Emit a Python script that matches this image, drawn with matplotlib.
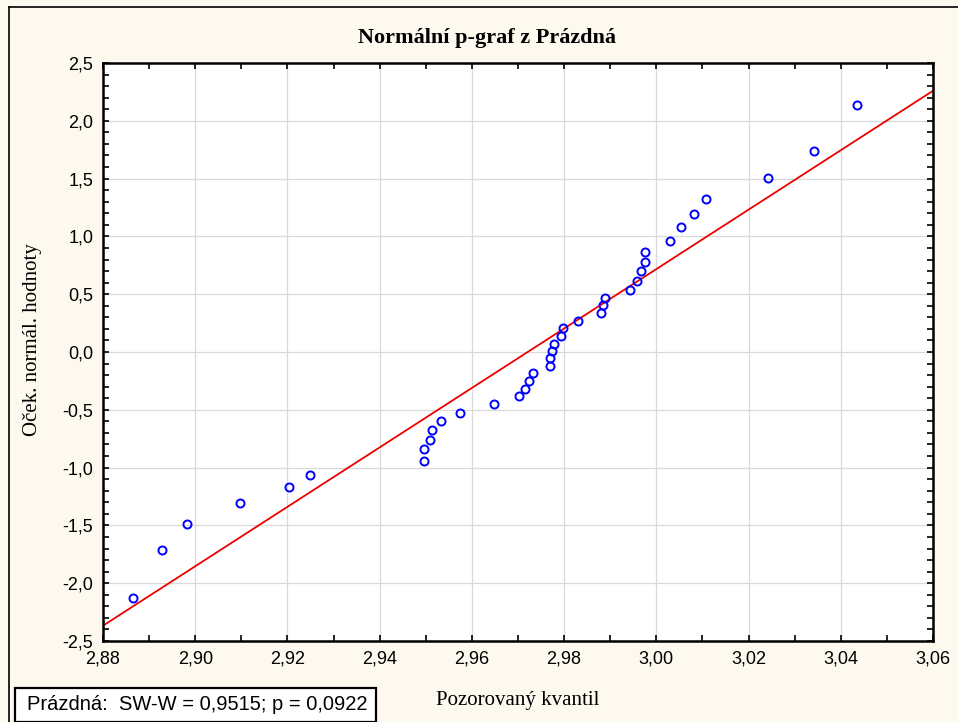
import matplotlib
matplotlib.use('Agg')
import matplotlib.pyplot as plt
from matplotlib.lines import Line2D
from matplotlib.patches import Rectangle
from matplotlib.ticker import MultipleLocator

# ---- data ----
observed = [2.8865, 2.8928, 2.8982, 2.9097, 2.9204, 2.9249, 2.9497, 2.9497,
            2.9509, 2.9513, 2.9534, 2.9575, 2.9649, 2.9703, 2.9716, 2.9723,
            2.9732, 2.9769, 2.9769, 2.9773, 2.9777, 2.9793, 2.9797, 2.9830,
            2.9880, 2.9885, 2.9889, 2.9942, 2.9958, 2.9966, 2.9975, 2.9975,
            3.0029, 3.0054, 3.0082, 3.0107, 3.0243, 3.0342, 3.0436]
expected = [-2.125, -1.714, -1.487, -1.305, -1.172, -1.060, -0.941, -0.843,
            -0.759, -0.679, -0.597, -0.528, -0.448, -0.384, -0.318, -0.251,
            -0.185, -0.119, -0.052, 0.005, 0.072, 0.138, 0.205, 0.270,
            0.336, 0.403, 0.470, 0.535, 0.618, 0.702, 0.782, 0.864,
            0.962, 1.077, 1.193, 1.325, 1.504, 1.735, 2.135]
line_mean = 2.9721
line_sd = 0.0389

x_ticks = [2.88, 2.90, 2.92, 2.94, 2.96, 2.98, 3.00, 3.02, 3.04, 3.06]
x_tick_labels = ['2,88', '2,90', '2,92', '2,94', '2,96', '2,98', '3,00', '3,02', '3,04', '3,06']
y_ticks = [-2.5, -2.0, -1.5, -1.0, -0.5, 0.0, 0.5, 1.0, 1.5, 2.0, 2.5]
y_tick_labels = ['-2,5', '-2,0', '-1,5', '-1,0', '-0,5', '0,0', '0,5', '1,0', '1,5', '2,0', '2,5']

title_text = 'Normální p-graf z Prázdná'
x_label = 'Pozorovaný kvantil'
y_label = 'Oček. normál. hodnoty'
stat_text = 'Prázdná:  SW-W = 0,9515; p = 0,0922'

# ---- layout ----
W, H = 958, 722
BG = '#fdf9ef'
SANS = ['Liberation Sans', 'DejaVu Sans']
SERIF = ['Liberation Serif', 'DejaVu Serif']

fig = plt.figure(figsize=(W / 100, H / 100), dpi=100, facecolor=BG)
ax = fig.add_axes([103 / W, 1 - 641 / H, (933 - 103) / W, (641 - 63) / H])
ax.set_facecolor('white')
ax.set_xlim(x_ticks[0], x_ticks[-1])
ax.set_ylim(y_ticks[0], y_ticks[-1])

ax.set_xticks(x_ticks, x_tick_labels)
ax.set_yticks(y_ticks, y_tick_labels)
ax.xaxis.set_minor_locator(MultipleLocator(0.01))
ax.yaxis.set_minor_locator(MultipleLocator(0.1))
ax.tick_params(which='both', direction='in', top=True, right=True,
               length=4, width=1.2, color='black')
ax.tick_params(which='major', labelsize=13, pad=7)
for lab in ax.get_xticklabels() + ax.get_yticklabels():
    lab.set_family(SANS)
ax.grid(True, which='major', color='#d9d9d9', lw=0.9)
ax.set_axisbelow(True)
for s in ax.spines.values():
    s.set_linewidth(1.8)
    s.set_color('black')

ax.axline((line_mean, 0.0), slope=1.0 / line_sd, color='#ee0000', lw=1.3, zorder=2)
ax.plot(observed, expected, 'o', mfc='none', mec='#0000ff', ms=5.8, mew=1.4,
        zorder=3, clip_on=False)

# ---- texts ----
fig.text(487 / W, 1 - 38 / H, title_text, ha='center', va='center',
         family=SERIF, fontweight='bold', fontsize=16)
fig.text(518 / W, 1 - 700 / H, x_label, ha='center', va='center',
         family=SERIF, fontsize=15)
fig.text(33 / W, 1 - 340 / H, y_label, ha='center', va='center', rotation=90,
         family=SERIF, fontsize=15)

# outer frame
fig.add_artist(Line2D([9 / W, 9 / W], [0, 1 - 7 / H], transform=fig.transFigure,
                      color='black', lw=1.2))
fig.add_artist(Line2D([9 / W, 1], [1 - 7 / H, 1 - 7 / H], transform=fig.transFigure,
                      color='black', lw=1.2))

# stats box
fig.add_artist(Rectangle((15 / W, 0), (376 - 15) / W, (722 - 688) / H,
                         transform=fig.transFigure, facecolor='white',
                         edgecolor='black', lw=1.6))
fig.text(197 / W, 1 - 705 / H, stat_text, ha='center', va='center',
         family=SANS, fontsize=14.5)

fig.savefig('out.png', dpi=100, facecolor=BG)
